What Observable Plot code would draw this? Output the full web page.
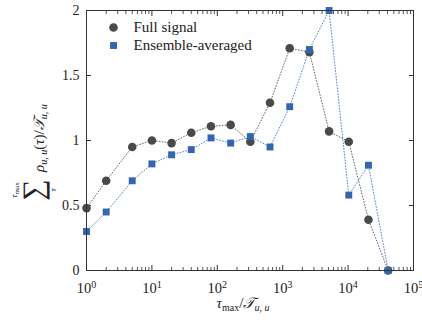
<!DOCTYPE html>
<html><head><meta charset="utf-8">
<script src="https://cdn.jsdelivr.net/npm/d3@7"></script>
<script src="https://cdn.jsdelivr.net/npm/@observablehq/plot@0.6"></script>
<style>body{margin:0;background:#fff}</style>
</head><body><div id="chart"></div>
<script>
const tauMax = [1, 2, 5, 10, 20, 40, 80, 160, 320, 640, 1280, 2560, 5120, 10240, 20480, 40960];
const fullSignal = [0.48, 0.69, 0.95, 1.00, 0.98, 1.06, 1.11, 1.12, 0.99, 1.29, 1.71, 1.68, 1.07, 0.99, 0.39, 0.00];
const ensembleAveraged = [0.30, 0.45, 0.69, 0.82, 0.89, 0.93, 1.02, 0.98, 1.03, 0.95, 1.26, 1.70, 2.00, 0.58, 0.81, 0.00];
const seriesNames = ["Full signal", "Ensemble-averaged"];
const xTicks = [1, 10, 100, 1000, 10000, 100000];
const xTickExponents = ["0", "1", "2", "3", "4", "5"];
const yTicks = [0, 0.5, 1, 1.5, 2];
const yTickLabels = ["0", "0.5", "1", "1.5", "2"];

const full = tauMax.map((t, i) => ({t, v: fullSignal[i]}));
const ens = tauMax.map((t, i) => ({t, v: ensembleAveraged[i]}));
const minorTicks = [];
for (let k = 0; k < 5; k++) for (let m = 2; m <= 9; m++) minorTicks.push(m * 10 ** k);

const grayC = "#4a4a4a", blueC = "#3166b2";
const fam = "Liberation Serif";

const plot = Plot.plot({
  width: 422, height: 320,
  marginLeft: 86, marginRight: 9, marginTop: 10, marginBottom: 50,
  style: {fontFamily: fam, fontSize: "14px", color: "#222", background: "white", overflow: "visible"},
  x: {type: "log", domain: [1, 1e5]},
  y: {domain: [0, 2]},
  marks: [
    Plot.axisX(minorTicks, {anchor: "bottom", tickSize: -3, text: null, label: null, stroke: "#555"}),
    Plot.axisX(minorTicks, {anchor: "top", tickSize: -3, text: null, label: null, stroke: "#555"}),
    Plot.axisX(xTicks, {anchor: "bottom", tickSize: -5, tickPadding: 17, tickFormat: d => "10|" + xTickExponents[xTicks.indexOf(d)], label: null, stroke: "#333", fontFamily: fam, fontSize: 14.5, fill: "#222"}),
    Plot.axisX(xTicks, {anchor: "top", tickSize: -5, text: null, label: null, stroke: "#333"}),
    Plot.axisY(yTicks, {anchor: "left", tickSize: -5, tickPadding: 12, tickFormat: d => yTickLabels[yTicks.indexOf(d)], label: null, stroke: "#333", fontFamily: fam, fontSize: 14, fill: "#222"}),
    Plot.axisY(yTicks, {anchor: "right", tickSize: -5, text: null, label: null, stroke: "#333"}),
    Plot.line(full, {x: "t", y: "v", stroke: "#6a6a6a", strokeWidth: 1, strokeDasharray: "0.9,2"}),
    Plot.line(ens, {x: "t", y: "v", stroke: "#5a86c8", strokeWidth: 1, strokeDasharray: "0.9,2"}),
    Plot.dot(full, {x: "t", y: "v", r: 4.3, fill: grayC, symbol: "circle"}),
    Plot.dot(ens, {x: "t", y: "v", r: 3.9, fill: blueC, symbol: "square"}),
    Plot.frame({stroke: "#333", strokeWidth: 1}),
    Plot.dot([seriesNames[0]], {frameAnchor: "top-left", dx: 27, dy: 17, r: 4.3, fill: grayC, symbol: "circle"}),
    Plot.dot([seriesNames[1]], {frameAnchor: "top-left", dx: 27, dy: 35, r: 3.9, fill: blueC, symbol: "square"}),
    Plot.text([seriesNames[0]], {frameAnchor: "top-left", dx: 47, dy: 17, text: d => d, textAnchor: "start", lineAnchor: "middle", fontFamily: fam, fontSize: 15, fill: "#222"}),
    Plot.text([seriesNames[1]], {frameAnchor: "top-left", dx: 47, dy: 35, text: d => d, textAnchor: "start", lineAnchor: "middle", fontFamily: fam, fontSize: 15, fill: "#222"})
  ]
});
document.getElementById("chart").append(plot);

const svg = d3.select(plot);
// superscript exponents for the x tick labels
svg.selectAll("text").each(function() {
  const t = d3.select(this);
  const s = t.text();
  if (/^10\|\d$/.test(s)) {
    const [base, ex] = s.split("|");
    t.text(base);
    t.append("tspan").attr("font-size", 10).attr("dy", "-0.45em").text(ex);
  }
});

// x label
const xl = svg.append("text").attr("x", 243).attr("y", 308).attr("text-anchor", "middle")
  .attr("font-family", fam).attr("font-size", 15).attr("fill", "#222");
xl.append("tspan").attr("font-style", "italic").text("τ");
xl.append("tspan").attr("font-size", 10).attr("dy", 3).text("max");
xl.append("tspan").attr("dy", -3).text("/");
xl.append("tspan").attr("font-style", "italic").text("𝒯");
xl.append("tspan").attr("font-size", 10).attr("font-style", "italic").attr("dy", 3).text("u, u");

// y label
const g = svg.append("g").attr("transform", "translate(44,147) rotate(-90)").attr("fill", "#222").attr("font-family", fam);
g.append("text").attr("x", -43).attr("y", -1).attr("text-anchor", "middle").attr("font-size", 30).text("∑");
g.append("text").attr("x", -43).attr("y", -27).attr("text-anchor", "middle").attr("font-size", 9).attr("font-style", "italic").text("τ")
  .append("tspan").attr("font-style", "normal").attr("font-size", 7).attr("dy", 2).text("max");
g.append("text").attr("x", -43).attr("y", 12).attr("text-anchor", "middle").attr("font-size", 9).attr("font-style", "italic").text("τ");
const yl = g.append("text").attr("x", -25).attr("y", 0).attr("text-anchor", "start").attr("font-size", 15);
yl.append("tspan").attr("font-style", "italic").text("ρ");
yl.append("tspan").attr("font-size", 10).attr("font-style", "italic").attr("dy", 3).text("u, u");
yl.append("tspan").attr("dy", -3).text("(");
yl.append("tspan").attr("font-style", "italic").text("τ");
yl.append("tspan").text(")/");
yl.append("tspan").attr("font-style", "italic").text("𝒯");
yl.append("tspan").attr("font-size", 10).attr("font-style", "italic").attr("dy", 3).text("u, u");
</script>
</body></html>
